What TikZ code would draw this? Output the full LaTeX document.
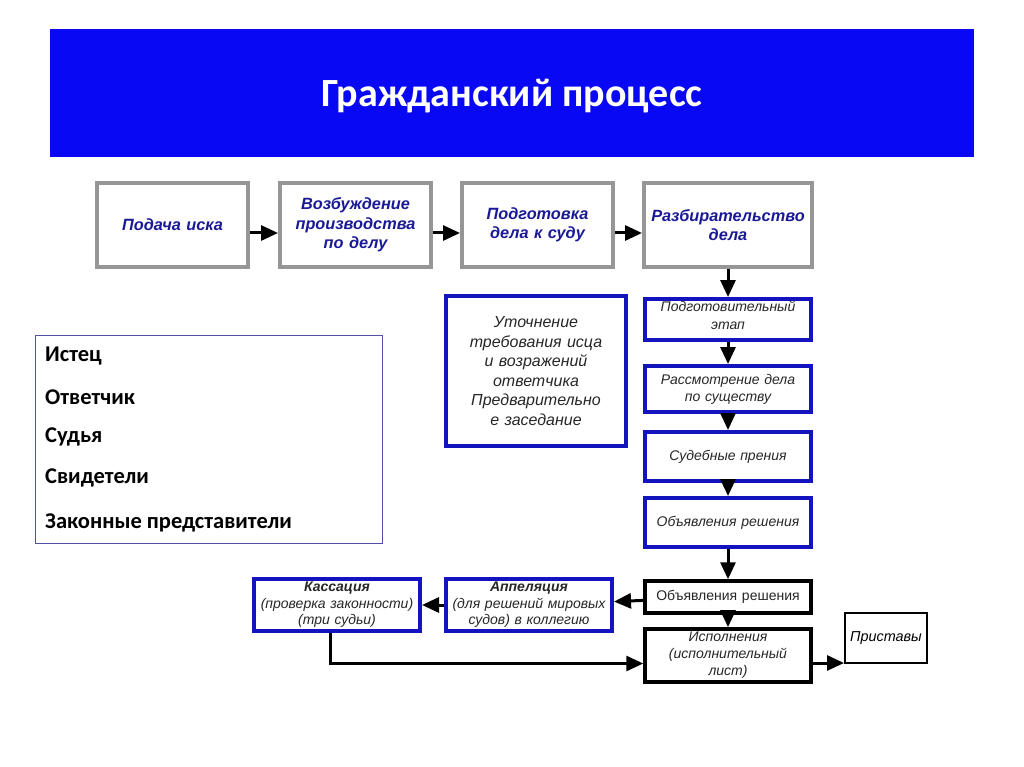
\documentclass[tikz,border=0pt]{standalone}
\usepackage{fontspec}
\setmainfont{Liberation Sans}
\newfontfamily\calfont{Carlito}
\usetikzlibrary{arrows.meta}

\definecolor{hdrblue}{RGB}{8,8,245}
\definecolor{boxblue}{RGB}{20,20,190}
\definecolor{boxgray}{RGB}{150,150,150}
\definecolor{txtblue}{RGB}{25,25,150}
\definecolor{roleline}{RGB}{80,80,170}

\begin{document}
\begin{tikzpicture}[x=1pt,y=-1pt,
    arr/.style={line width=3pt,-{Triangle[length=17pt,width=15pt]}},
    stage/.style={draw=boxgray,line width=4pt,minimum width=151pt,minimum height=84pt,
      text width=140pt,align=center,font=\fontsize{16.3}{19.5}\selectfont\bfseries\itshape,text=txtblue},
    phase/.style={draw=boxblue,line width=4pt,minimum width=166pt,
      text width=155pt,align=center,font=\fontsize{14}{17}\selectfont\itshape,text=black!85},
    final/.style={phase,draw=black,line width=3.5pt}]

      \useasboundingbox (0,0) rectangle (1024,767);

      % header
      \fill[hdrblue] (50,29) rectangle (974,157);
      \node[text=white,font=\calfont\fontsize{40}{46}\selectfont\bfseries] (title) at (512,96) {Гражданский процесс};

      % top row
      \begin{scope}[every node/.style={stage}]
        \node (1) at (172.5,225) {Подача иска};
        \node (2) at (355.5,225) {Возбуждение\\производства\\по делу};
        \node (3) at (537.5,225) {Подготовка\\дела к суду};
        \node[minimum width=168pt,text width=157pt] (4) at (728,225) {Разбирательство\\дела};
      \end{scope}

      % right column
      \begin{scope}[every node/.style={phase}]
        \node[minimum height=41pt] (5) at (728,319.5) {};
        \node[minimum height=46pt] (6) at (728,389) {Рассмотрение дела\\по существу};
        \node[minimum height=49pt] (7) at (728,456.5) {Судебные прения};
        \node[minimum height=49pt] (8) at (728,522.5) {Объявления решения};
        \node[final,minimum height=32pt,font=\fontsize{14}{17}\selectfont] (9) at (728,597) {Объявления решения};
        \node[final,minimum height=49pt] (10) at (728,655.5) {Исполнения\\(исполнительный\\лист)};
        \node[minimum height=50pt,font=\fontsize{14}{16.5}\selectfont\itshape] (11) at (529,605) {\textbf{Аппеляция}\\(для решений мировых\\судов) в коллегию};
        \node[minimum height=50pt,font=\fontsize{14}{16.5}\selectfont\itshape] (12) at (337,605) {\textbf{Кассация}\\(проверка законности)\\(три судьи)};
        \node[minimum width=180pt,minimum height=150pt,text width=169pt,
          font=\fontsize{16}{19.6}\selectfont\itshape] (13) at (536,371)
          {Уточнение\\требования исца\\и возражений\\ответчика\\Предварительно\\е заседание};
      \end{scope}
      \node[align=center,font=\fontsize{14}{18}\selectfont\itshape,text=black!85] (5t) at (728,315) {Подготовительный\\этап};

      \node[draw=black,line width=2pt,minimum width=82pt,minimum height=50pt,
        font=\fontsize{14.4}{17}\selectfont\itshape] (14) at (886,638) {Приставы};

      % participants
      \draw[roleline,line width=1pt] (35,335) rectangle (382,543);
      \begin{scope}[every node/.style={anchor=west,inner sep=0pt,font=\calfont\fontsize{22.5}{26}\selectfont\bfseries}]
        \node (15) at (45,356) {Истец};
        \node (16) at (45,397) {Ответчик};
        \node (17) at (45,437) {Судья};
        \node (18) at (45,478) {Свидетели};
        \node (19) at (45,523) {Законные представители};
      \end{scope}

      % connectors
      \begin{scope}[every edge/.style={draw,arr}]
        \path ([yshift=-8pt]1.east) edge ([yshift=-8pt]2.west);
        \path ([yshift=-8pt]2.east) edge ([yshift=-8pt]3.west);
        \path ([yshift=-8pt]3.east) edge ([yshift=-8pt]4.west);
        \path (4) edge (5);
        \path (5) edge (6);
        \path (6) edge (7);
        \path (7) edge (8);
        \path (8) edge (9);
        \path (9) edge (10);
        \path (9) edge (11);
        \path (11) edge (12);
        \path ([yshift=-7.5pt]10.east) edge ([yshift=-25pt]14.west);
      \end{scope}
      \draw[arr] ([xshift=-7pt]12.south) |- ([yshift=-8pt]10.west);

    \end{tikzpicture}
\end{document}
